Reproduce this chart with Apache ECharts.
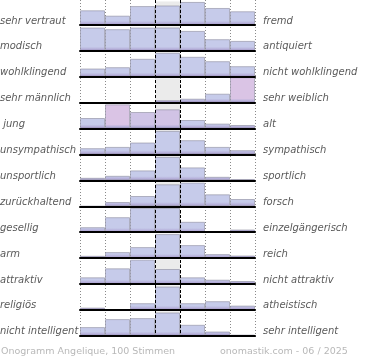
<!DOCTYPE html>
<html><head><meta charset="utf-8">
<script src="https://cdn.jsdelivr.net/npm/echarts@6/dist/echarts.min.js"></script>
<style>html,body{margin:0;padding:0;background:#fff}#c{width:370px;height:360px}</style>
</head><body><div id="c"></div>
<script>
const bins = ['1','2','3','4','5','6','7'];
const leftLabels = ['sehr vertraut','modisch','wohlklingend','sehr männlich',' jung','unsympathisch','unsportlich','zurückhaltend','gesellig','arm','attraktiv','religiös','nicht intelligent'];
const rightLabels = ['fremd','antiquiert','nicht wohlklingend','sehr weiblich','alt','sympathisch','sportlich','forsch','einzelgängerisch','reich','nicht attraktiv','atheistisch','sehr intelligent'];
const r01 = [15.3, 9.7, 19.7, 20.3, 24.0, 17.7, 14.3];
const r02 = [23.4, 21.7, 23.4, 23.4, 20.0, 11.7, 10.0];
const r03 = [8.3, 9.6, 18.0, 24.0, 20.0, 15.6, 10.6];
const r04 = [0, 0, 0, 2.5, 4.0, 9.0, 25.5];
const r05 = [10.6, 24.3, 16.6, 19.3, 8.6, 5.0, 3.6];
const r06 = [6.3, 7.6, 12.0, 23.6, 14.3, 7.6, 4.3];
const r07 = [2.6, 4.6, 10.0, 23.5, 13.0, 3.6, 1.3];
const r08 = [0, 4.3, 10.3, 22.0, 23.7, 12.0, 7.3];
const r09 = [5.0, 15.0, 24.3, 24.3, 10.4, 1.0, 2.7];
const r10 = [2.3, 6.0, 11.0, 24.0, 13.0, 4.0, 2.6];
const r11 = [6.7, 15.7, 24.3, 15.0, 6.7, 4.3, 3.0];
const r12 = [2.3, 0, 6.7, 23.3, 6.7, 8.7, 4.3];
const r13 = [8.7, 16.7, 17.7, 23.3, 11.0, 4.3, 1.0];
const rows = [r01,r02,r03,r04,r05,r06,r07,r08,r09,r10,r11,r12,r13];
const neutralBand = [null, null, null, 24.5, null, null, null];
const footerLeft = 'Onogramm Angelique, 100 Stimmen';
const footerRight = 'onomastik.com - 06 / 2025';
// style: pink tinted cells "row-bin"
const pinkCells = {'3-6':'#dac4e5','4-1':'#dac4e5','4-2':'#cfc4e6','4-3':'#d1c3e5'};

const chart = echarts.init(document.getElementById('c'), null, {renderer:'canvas'});
const L = 80, W = 175, RH = 26, B0 = 25, STEP = 25.9;
const grid = [], xAxis = [], yAxis = [], series = [], graphic = [];
function grad(b, top){
  return new echarts.graphic.LinearGradient(0, b - 26, 0, b, [
    {offset:0, color: top}, {offset:0.84, color: top}, {offset:0.93, color:'#b6b0da'}, {offset:1, color:'#9d8ec3'}], true);
}
rows.forEach((vals, i) => {
  const b = B0 + STEP * i;
  grid.push({left:L, width:W, top:b - RH, height:RH});
  xAxis.push({type:'category', gridIndex:i, data:bins, z:4,
    axisLine:{show:true, lineStyle:{color:'#000', width:2}}, axisTick:{show:false}, axisLabel:{show:false}, splitLine:{show:false}});
  yAxis.push({type:'value', gridIndex:i, min:0, max:RH, show:false, splitLine:{show:false}});
  series.push({type:'bar', xAxisIndex:i, yAxisIndex:i, data:neutralBand, barWidth:'100%', barGap:'-100%', z:1, silent:true,
    itemStyle:{color:'#ebebeb'}});
  series.push({type:'bar', xAxisIndex:i, yAxisIndex:i, barWidth:'100%', barGap:'-100%', z:2, silent:true,
    data: vals.map((v, j) => {
      const p = pinkCells[i + '-' + j];
      return p ? {value:v, itemStyle:{color:grad(b, p)}} : v;
    }),
    itemStyle:{color:grad(b, '#c6cbea'), borderColor:'rgba(140,140,158,0.6)', borderWidth:1}});
  graphic.push({type:'text', x:0, y:b - 4, silent:true, style:{text:leftLabels[i], font:'italic 10px "DejaVu Sans"', fill:'#5a5a5a', verticalAlign:'middle', align:'left'}});
  graphic.push({type:'text', x:263, y:b - 4, silent:true, style:{text:rightLabels[i], font:'italic 10px "DejaVu Sans"', fill:'#5a5a5a', verticalAlign:'middle', align:'left'}});
});
// dotted grid lines
grid.push({left:L, width:W, top:0, height:338});
xAxis.push({type:'value', gridIndex:13, min:0, max:7, interval:1, z:0, axisLine:{show:false}, axisTick:{show:false}, axisLabel:{show:false},
  splitLine:{show:true, lineStyle:{color:'#8a8a8a', width:1, type:[1,2]}}});
yAxis.push({type:'value', gridIndex:13, min:0, max:1, show:false, splitLine:{show:false}});
// dashed neutral column lines
grid.push({left:155, width:25, top:0, height:336});
xAxis.push({type:'value', gridIndex:14, min:3, max:4, interval:1, z:6, axisLine:{show:false}, axisTick:{show:false}, axisLabel:{show:false},
  splitLine:{show:true, lineStyle:{color:'#000', width:1, type:[3,2]}}});
yAxis.push({type:'value', gridIndex:14, min:0, max:1, show:false, splitLine:{show:false}});

graphic.push({type:'text', x:1, y:352, silent:true, style:{text:footerLeft, font:'9.5px "DejaVu Sans"', fill:'#b8b8b8', verticalAlign:'middle', align:'left'}});
graphic.push({type:'text', x:220, y:352, silent:true, style:{text:footerRight, font:'9.5px "DejaVu Sans"', fill:'#b8b8b8', verticalAlign:'middle', align:'left'}});

chart.setOption({animation:false, grid, xAxis, yAxis, series, graphic});
</script></body></html>
